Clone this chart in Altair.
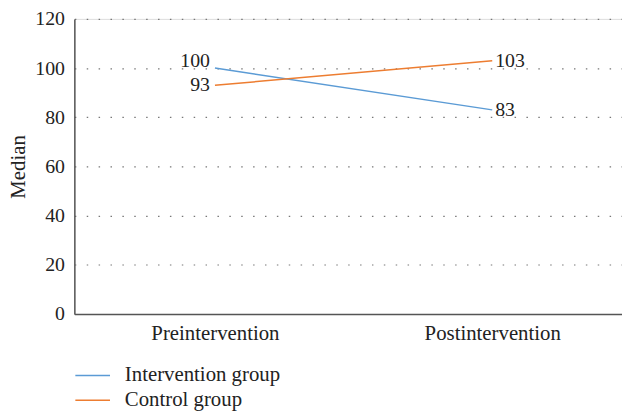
import altair as alt
import pandas as pd

times = ["Preintervention", "Postintervention"]
groups = ["Intervention group", "Control group"]
intervention = [100, 83]
control = [93, 103]

rows = []
for t, v in zip(times, intervention):
    rows.append({"time": t, "group": groups[0], "value": v, "side": "L" if t == times[0] else "R"})
for t, v in zip(times, control):
    rows.append({"time": t, "group": groups[1], "value": v, "side": "L" if t == times[0] else "R"})
df = pd.DataFrame(rows)

FONT = "Liberation Serif"
TXT = "#222222"
xscale = alt.Scale(type="point", padding=0.4875, align=0.52)
x = alt.X("time:N", sort=times, title=None, scale=xscale,
          axis=alt.Axis(labelAngle=0, ticks=False, domain=True, domainColor="#555555",
                        domainWidth=1.5, labelFont=FONT, labelFontSize=21, labelColor=TXT,
                        labelPadding=9, grid=False))
y = alt.Y("value:Q", title="Median",
          scale=alt.Scale(domain=[0, 120], nice=False),
          axis=alt.Axis(values=[0, 20, 40, 60, 80, 100, 120], ticks=False, domain=True,
                        domainColor="#555555", domainWidth=1.5,
                        labelFont=FONT, labelFontSize=20, labelColor=TXT, labelPadding=10,
                        titleFont=FONT, titleFontSize=21, titleFontWeight="normal",
                        titleColor=TXT, titleX=-56, titleY=149, titleAngle=270,
                        titleAlign="center", titleBaseline="middle",
                        grid=True, gridDash=[1.5, 10.5], gridColor="#777777", gridWidth=1.2))

color = alt.Color("group:N", sort=groups,
                  scale=alt.Scale(domain=groups, range=["#5B9BD5", "#ED7D31"]),
                  legend=alt.Legend(title=None, orient="none", legendX=3.5, legendY=345,
                                    symbolType="M-1.25,0L1.25,0", symbolStrokeWidth=1.5,
                                    symbolSize=784,
                                    labelFont=FONT, labelFontSize=21, labelColor=TXT,
                                    labelOffset=17.5, rowPadding=0))

lines = alt.Chart(df).mark_line(strokeWidth=1.5).encode(x=x, y=y, color=color,
                                                         detail="group:N")


def label_layer(side, group, align, dx, dy):
    return alt.Chart(df).transform_filter(
        (alt.datum.side == side) & (alt.datum.group == group)
    ).mark_text(
        align=align, baseline="middle", dx=dx, dy=dy, font=FONT, fontSize=20, color=TXT
    ).encode(x=alt.X("time:N", sort=times, scale=xscale), y="value:Q", text="value:Q")


labels = [
    label_layer("L", groups[0], "right", -5, -7),
    label_layer("L", groups[1], "right", -5, 0),
    label_layer("R", groups[0], "left", 3, 0),
    label_layer("R", groups[1], "left", 3, 0),
]

chart = alt.layer(lines, *labels).properties(
    width=553, height=298,
    autosize=alt.AutoSizeParams(type="none"),
    padding={"left": 67, "top": 9, "right": 0, "bottom": 100},
).configure_view(stroke=None).configure(background="white")

chart.save("out.html", embed_options={"renderer": "svg", "actions": False})
